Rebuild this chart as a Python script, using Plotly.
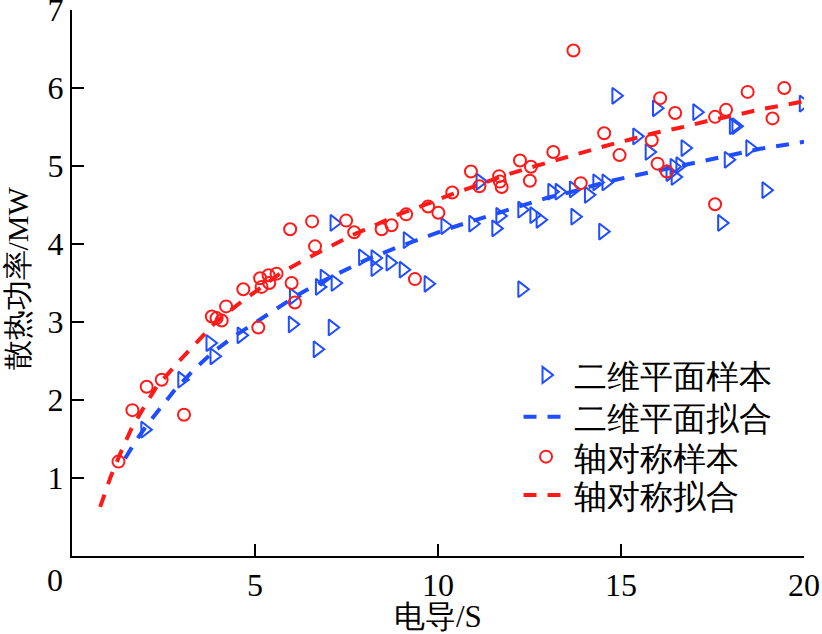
import plotly.graph_objects as go

# ---- data ----
blue_x = [1.99, 3.00, 3.77, 3.88, 4.62, 6.02, 6.05, 6.70, 6.76, 6.89, 7.11, 7.19, 7.16,
          7.94, 8.28, 8.28, 8.69, 9.05, 9.16, 9.73, 10.19, 10.95, 11.15, 11.58, 11.69,
          12.29, 12.29, 12.62, 12.79, 13.11, 13.31, 13.70, 13.74, 14.11, 14.34, 14.59,
          14.50, 14.86, 15.43, 15.77, 15.97, 16.34, 16.45, 16.48, 16.61, 16.75, 17.07,
          17.75, 17.93, 18.07, 18.14, 18.52, 18.96, 19.98]
blue_y = [1.62, 2.26, 2.73, 2.56, 2.83, 2.97, 3.33, 2.65, 3.45, 3.57, 2.93, 3.50, 4.27,
          3.83, 3.82, 3.69, 3.76, 3.67, 4.05, 3.49, 4.23, 4.26, 4.80, 4.20, 4.36,
          4.44, 3.42, 4.37, 4.31, 4.67, 4.67, 4.70, 4.35, 4.63, 4.79, 4.79,
          4.16, 5.90, 5.38, 5.18, 5.74, 4.91, 4.99, 4.86, 5.01, 5.23, 5.69,
          4.27, 5.08, 5.51, 5.51, 5.23, 4.69, 5.80]

red_x = [1.27, 1.65, 2.04, 2.45, 3.06, 3.82, 3.95, 4.09, 4.21, 4.68, 5.09, 5.14, 5.18,
         5.37, 5.39, 5.59, 5.96, 6.00, 6.09, 6.56, 6.64, 7.49, 7.71, 8.46, 8.73, 9.13,
         9.37, 9.73, 10.01, 10.39, 10.90, 11.13, 11.67, 11.69, 11.74, 12.24, 12.51,
         12.54, 13.15, 13.70, 13.90, 14.54, 14.96, 15.84, 16.00, 16.07, 16.25, 16.48,
         17.57, 17.57, 17.87, 18.46, 19.14, 19.46]
red_y = [1.21, 1.87, 2.17, 2.26, 1.81, 3.07, 3.05, 3.02, 3.20, 3.42, 2.93, 3.56, 3.45,
         3.60, 3.50, 3.62, 4.19, 3.50, 3.25, 4.29, 3.97, 4.30, 4.15, 4.19, 4.24, 4.38,
         3.55, 4.48, 4.40, 4.66, 4.93, 4.74, 4.87, 4.80, 4.73, 5.07, 4.81,
         4.99, 5.18, 6.48, 4.78, 5.42, 5.14, 5.33, 5.03, 5.87, 4.93, 5.68,
         5.63, 4.51, 5.72, 5.95, 5.61, 6.00]

blue_fit_x = [1.45, 1.75, 2.05, 2.31, 2.81, 3.31, 3.82, 4.41, 5.00, 5.59, 6.18, 6.87,
              7.55, 8.05, 8.85, 9.55, 10.24, 10.97, 11.69, 12.33, 12.97, 13.74, 14.47,
              15.20, 15.93, 16.66, 17.39, 18.11, 18.80, 19.53, 20.00]
blue_fit_y = [1.25, 1.48, 1.68, 1.84, 2.13, 2.38, 2.60, 2.81, 2.99, 3.18, 3.35, 3.53,
              3.69, 3.80, 3.95, 4.07, 4.19, 4.30, 4.40, 4.50, 4.59, 4.68, 4.78,
              4.86, 4.93, 5.01, 5.08, 5.15, 5.22, 5.28, 5.31]

red_fit_x = [0.77, 1.06, 1.36, 1.63, 2.02, 2.31, 2.93, 3.41, 3.91, 4.52, 5.05, 5.68,
             6.32, 6.96, 7.64, 8.28, 8.92, 9.69, 10.33, 11.06, 11.69, 12.38, 13.11,
             13.83, 14.52, 15.25, 15.98, 16.70, 17.39, 18.11, 18.84, 19.57, 20.00]
red_fit_y = [0.63, 1.02, 1.36, 1.64, 1.95, 2.17, 2.50, 2.74, 2.99, 3.22, 3.40, 3.62,
             3.79, 3.95, 4.11, 4.24, 4.38, 4.51, 4.63, 4.75, 4.86, 4.96, 5.06,
             5.16, 5.25, 5.34, 5.43, 5.50, 5.58, 5.65, 5.73, 5.79, 5.83]

names = ["二维平面样本", "二维平面拟合", "轴对称样本", "轴对称拟合"]
x_ticks = [5, 10, 15, 20]
y_ticks = [1, 2, 3, 4, 5, 6, 7]

BLUE = "#1f4dff"
RED = "#ff1a1a"
FONT = "Liberation Serif"

fig = go.Figure()
fig.add_trace(go.Scatter(x=blue_x, y=blue_y, mode="markers", name=names[0], legend="legend",
                         marker=dict(symbol="triangle-right-open", size=14, color=BLUE,
                                     line=dict(width=2, color=BLUE))))
fig.add_trace(go.Scatter(x=blue_fit_x, y=blue_fit_y, mode="lines", name=names[1], legend="legend2",
                         line=dict(color=BLUE, width=4, dash="13px,11px")))
fig.add_trace(go.Scatter(x=red_x, y=red_y, mode="markers", name=names[2], legend="legend3",
                         marker=dict(symbol="circle-open", size=12, color=RED,
                                     line=dict(width=2, color=RED))))
fig.add_trace(go.Scatter(x=red_fit_x, y=red_fit_y, mode="lines", name=names[3], legend="legend4",
                         line=dict(color=RED, width=4, dash="13px,11px")))

axis_common = dict(ticks="inside", ticklen=12, tickwidth=2, tickcolor="black",
                   showline=True, linecolor="black", linewidth=2, showgrid=False,
                   zeroline=False, automargin=False, ticklabeloverflow="allow",
                   tickfont=dict(size=32, family=FONT, color="black"))


def leg(yc):
    return dict(x=0.61, y=yc, xanchor="left", yanchor="middle",
                bgcolor="rgba(0,0,0,0)", font=dict(size=33, family=FONT, color="black"),
                itemwidth=45)


fig.update_layout(
    width=822, height=634,
    margin=dict(l=72, r=18, t=10, b=78, autoexpand=False),
    paper_bgcolor="white", plot_bgcolor="white",
    font=dict(family=FONT, size=31, color="black"),
    showlegend=True,
    legend=leg(0.3315), legend2=leg(0.2551), legend3=leg(0.1819), legend4=leg(0.1117),
    xaxis=dict(range=[0, 20], tickvals=x_ticks, **axis_common),
    yaxis=dict(range=[0, 7], tickvals=y_ticks, **axis_common),
    annotations=[
        dict(x=0, y=0, xref="x", yref="y", text="0", showarrow=False,
             xanchor="center", yanchor="middle", xshift=-17, yshift=-24,
             font=dict(size=32, family=FONT)),
        dict(x=10, y=-0.11, xref="x", yref="paper", text="电导/S", showarrow=False,
             xanchor="center", yanchor="middle", font=dict(size=31, family=FONT)),
        dict(x=-0.074, y=0.508, xref="paper", yref="paper", text="散热功率/MW",
             showarrow=False, textangle=-90, xanchor="center", yanchor="middle",
             font=dict(size=30, family=FONT)),
    ],
)

fig.write_html("out.html", config={"displayModeBar": False},
               post_script="document.body.style.margin='0';document.body.style.padding='0';")
